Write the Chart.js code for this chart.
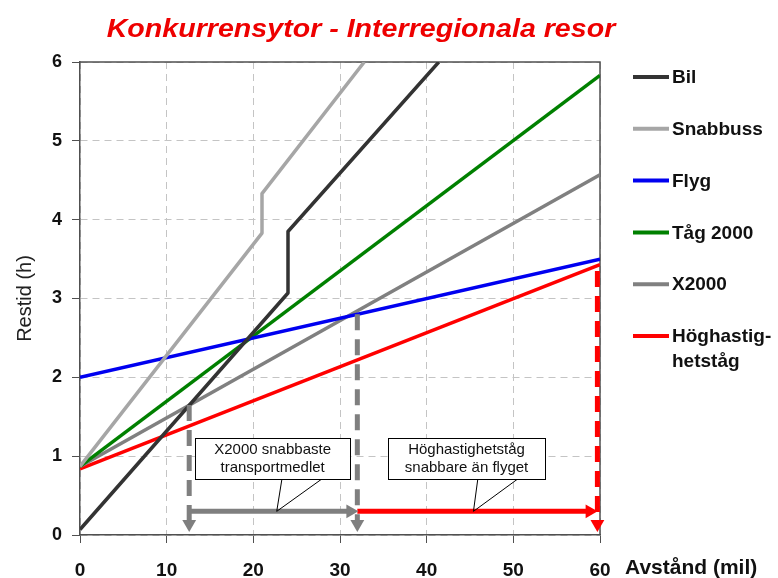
<!DOCTYPE html>
<html lang="sv">
<head>
<meta charset="utf-8">
<title>Konkurrensytor - Interregionala resor</title>
<script src="https://cdn.jsdelivr.net/npm/chart.js@4.4.1/dist/chart.umd.min.js"></script>
<style>
  html, body { margin: 0; padding: 0; background: #fff; }
  #wrap { width: 778px; height: 578px; }
</style>
</head>
<body>
<div id="wrap"><canvas id="chart"></canvas></div>
<script>
// Restid (h) mot avstånd (mil) per transportmedel
const seriesNames = ['Bil', 'Snabbuss', 'Flyg', 'Tåg 2000', 'X2000', 'Höghastighetståg'];
const legendLabels = [['Bil'], ['Snabbuss'], ['Flyg'], ['Tåg 2000'], ['X2000'], ['Höghastig-', 'hetståg']];
const seriesColors = ['#333333', '#a6a6a6', '#0000f0', '#008000', '#808080', '#ff0000'];

const bilX = [0, 24, 24, 41.4];
const bilY = [0.07, 3.07, 3.85, 6];
const bussX = [0, 21, 21, 32.8];
const bussY = [0.87, 3.83, 4.33, 6];
const flygX = [0, 60];
const flygY = [2.0, 3.5];
const tagX = [0, 60];
const tagY = [0.87, 5.83];
const x2000X = [0, 60];
const x2000Y = [0.87, 4.57];
const hstX = [0, 60];
const hstY = [0.84, 3.43];

// markeringar: streckade lodlinjer och pilar
const dropAX = [12.6, 12.6];
const dropAY = [1.65, 0.14];
const dropBX = [32, 32];
const dropBY = [2.8, 0.14];
const dropCX = [59.7, 59.7];
const dropCY = [3.35, 0.14];
const spanGrayX = [12.6, 31.2];
const spanGrayY = [0.3, 0.3];
const spanRedX = [32, 58.8];
const spanRedY = [0.3, 0.3];

const xTicks = [0, 10, 20, 30, 40, 50, 60];
const yTicks = [0, 1, 2, 3, 4, 5, 6];

const FONT = '"Liberation Sans", Arial, sans-serif';
Chart.defaults.font.family = FONT;

const pts = (xs, ys) => xs.map((x, i) => ({ x, y: ys[i] }));

const seriesData = [
    pts(bilX, bilY), pts(bussX, bussY), pts(flygX, flygY),
    pts(tagX, tagY), pts(x2000X, x2000Y), pts(hstX, hstY)
];

const datasets = seriesNames.map((name, i) => ({
    label: name,
    data: seriesData[i],
    showLine: true,
    borderColor: seriesColors[i],
    backgroundColor: seriesColors[i],
    borderWidth: 3.5,
    pointRadius: 0,
    borderJoinStyle: 'round',
    order: 0
}));

function marker(xs, ys, color, dashed, rotation) {
    return {
        label: '',
        data: pts(xs, ys),
        showLine: true,
        borderColor: color,
        backgroundColor: color,
        borderWidth: 5,
        borderDash: dashed ? [16, 9] : [],
        borderCapStyle: 'butt',
        pointStyle: 'triangle',
        pointRadius: [0, 8],
        pointRotation: [0, rotation],
        pointBorderWidth: 0,
        pointBackgroundColor: color,
        clip: false,
        order: -1
    };
}

datasets.push(
    marker(dropAX, dropAY, '#7f7f7f', true, 180),
    marker(dropBX, dropBY, '#7f7f7f', true, 180),
    marker(dropCX, dropCY, '#ff0000', true, 180),
    marker(spanGrayX, spanGrayY, '#7f7f7f', false, 90),
    marker(spanRedX, spanRedY, '#ff0000', false, 90)
);

// textrutor med pekare
const notes = [
    { lines: ['X2000 snabbaste', 'transportmedlet'], x1: 13.3, x2: 31.15, y1: 1.23, y2: 0.71, base: [23.3, 27.9], tip: [22.7, 0.3] },
    { lines: ['Höghastighetståg', 'snabbare än flyget'], x1: 35.55, x2: 53.65, y1: 1.23, y2: 0.71, base: [45.9, 50.5], tip: [45.4, 0.3] }
];

const overlay = {
    id: 'overlay',
    beforeDatasetsDraw(chart) {
        const { ctx, chartArea: a } = chart;
        ctx.save();
        ctx.strokeStyle = '#505050';
        ctx.lineWidth = 1.5;
        ctx.beginPath();
        ctx.moveTo(a.left, a.top);
        ctx.lineTo(a.right, a.top);
        ctx.lineTo(a.right, a.bottom);
        ctx.stroke();
        ctx.restore();
    },
    afterDatasetsDraw(chart) {
        const { ctx } = chart;
        const xs = chart.scales.x, ys = chart.scales.y;
        ctx.save();
        notes.forEach(n => {
            const l = xs.getPixelForValue(n.x1), r = xs.getPixelForValue(n.x2);
            const t = ys.getPixelForValue(n.y1), b = ys.getPixelForValue(n.y2);
            const tx = xs.getPixelForValue(n.tip[0]), ty = ys.getPixelForValue(n.tip[1]);
            ctx.strokeStyle = '#000';
            ctx.lineWidth = 1;
            ctx.beginPath();
            ctx.moveTo(xs.getPixelForValue(n.base[0]), b);
            ctx.lineTo(tx, ty);
            ctx.lineTo(xs.getPixelForValue(n.base[1]), b);
            ctx.stroke();
            ctx.fillStyle = '#fff';
            ctx.fillRect(l, t, r - l, b - t);
            ctx.strokeRect(Math.round(l) + 0.5, Math.round(t) + 0.5, Math.round(r - l), Math.round(b - t));
            ctx.fillStyle = '#111';
            ctx.font = '15px ' + FONT;
            ctx.textAlign = 'center';
            ctx.textBaseline = 'middle';
            const cx = (l + r) / 2, cy = (t + b) / 2;
            ctx.fillText(n.lines[0], cx, cy - 9);
            ctx.fillText(n.lines[1], cx, cy + 9);
        });
        ctx.restore();
    },
    afterDraw(chart) {
        const { ctx } = chart;
        ctx.save();
        // titel
        ctx.fillStyle = '#ee0000';
        ctx.font = 'italic bold 26px ' + FONT;
        ctx.textAlign = 'center';
        ctx.textBaseline = 'middle';
        ctx.translate(361, 30);
        ctx.scale(1.1, 1);
        ctx.fillText('Konkurrensytor - Interregionala resor', 0, 0);
        ctx.setTransform(1, 0, 0, 1, 0, 0);
        // x-axelns rubrik
        ctx.fillStyle = '#111';
        ctx.font = 'bold 21px ' + FONT;
        ctx.textAlign = 'left';
        ctx.fillText('Avstånd (mil)', 625, 568);
        // förklaring
        ctx.font = 'bold 19px ' + FONT;
        legendLabels.forEach((lines, i) => {
            const y = 77 + i * 51.8;
            ctx.strokeStyle = seriesColors[i];
            ctx.lineWidth = 4;
            ctx.beginPath();
            ctx.moveTo(633, y);
            ctx.lineTo(669, y);
            ctx.stroke();
            lines.forEach((txt, j) => ctx.fillText(txt, 672, y + 1 + j * 25));
        });
        ctx.restore();
    }
};

new Chart(document.getElementById('chart'), {
    type: 'scatter',
    data: { datasets },
    plugins: [overlay],
    options: {
        responsive: true,
        maintainAspectRatio: false,
        animation: false,
        events: [],
        layout: { padding: { top: 62, right: 178, bottom: 0, left: 0 } },
        plugins: {
            legend: { display: false },
            title: { display: false },
            tooltip: { enabled: false }
        },
        scales: {
            x: {
                type: 'linear',
                min: 0,
                max: 60,
                afterBuildTicks: s => { s.ticks = xTicks.map(v => ({ value: v })); },
                afterFit: s => { s.height = 43; },
                grid: { color: '#c4c4c4', tickColor: '#505050', tickLength: 8, tickBorderDash: [] },
                border: { color: '#505050', width: 1.5, dash: [7, 5] },
                ticks: { color: '#111', padding: 16, font: { size: 19, weight: 'bold' }, maxRotation: 0 }
            },
            y: {
                min: 0,
                max: 6,
                afterBuildTicks: s => { s.ticks = yTicks.map(v => ({ value: v })); },
                afterFit: s => { s.width = 80; },
                grid: { color: '#c4c4c4', tickColor: '#505050', tickLength: 8, tickBorderDash: [] },
                border: { color: '#505050', width: 1.5, dash: [7, 5] },
                ticks: { color: '#111', padding: 10, font: { size: 18, weight: 'bold' } },
                title: { display: true, text: 'Restid (h)', color: '#222', font: { size: 20 }, padding: { top: 13, bottom: 0 } }
            }
        }
    }
});
</script>
</body>
</html>
